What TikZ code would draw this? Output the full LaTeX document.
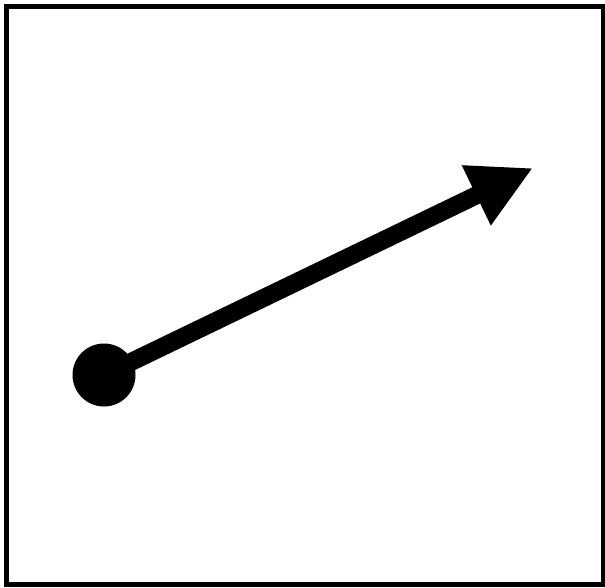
\documentclass[tikz,border=0pt]{standalone}
\usetikzlibrary{arrows.meta}

\begin{document}
\begin{tikzpicture}[
    x=1pt, y=-1pt,
    frame/.style={draw=black, line width=5pt},
    dot/.style={circle, fill=black, minimum size=63pt, inner sep=0pt},
    arr/.style={-{Triangle[length=63pt, width=62pt]}, line width=18pt, draw=black}
]
    \useasboundingbox (0,0) rectangle (605,588);
    \draw[frame] (6.5,6.5) rectangle (603.5,584.5);

    \node[dot] (start) at (104,375) {};
    \coordinate (tip) at (533,168);

    \draw[arr] (start.center) -- (tip);
\end{tikzpicture}
\end{document}
